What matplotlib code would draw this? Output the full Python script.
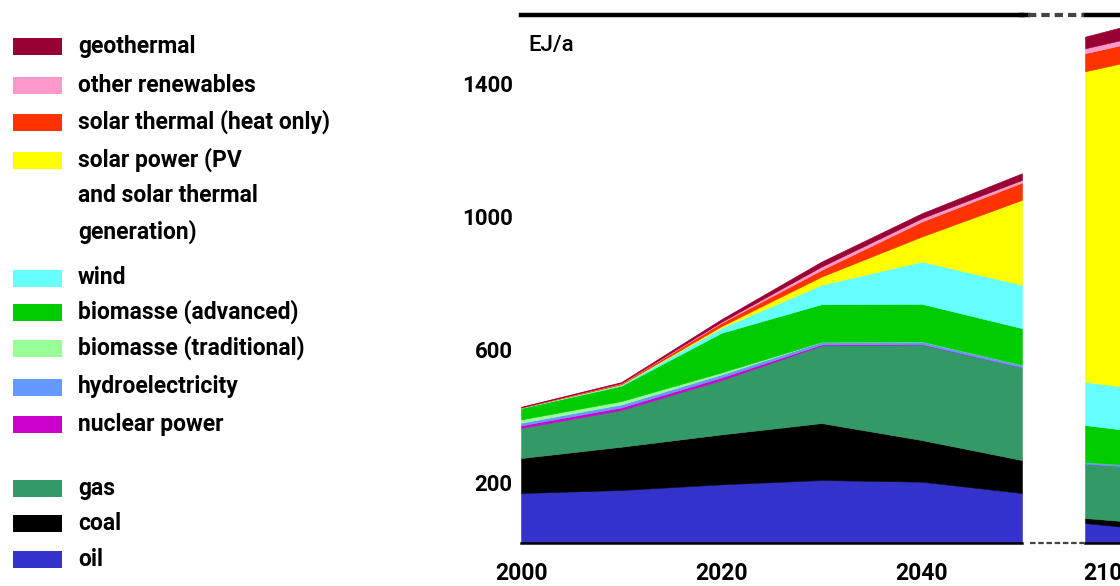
import matplotlib
matplotlib.use("Agg")
import matplotlib.pyplot as plt
from matplotlib.patches import Rectangle
from matplotlib.lines import Line2D

# ---------------- data (EJ/a) ----------------
years = [2000, 2010, 2020, 2030, 2040, 2050]
oil = [150, 159, 176, 189, 184, 150]
coal = [105, 130, 150, 171, 125, 99]
gas = [90, 110, 163, 233, 287, 278]
nuclear = [8, 8, 8, 3, 1, 0]
hydro = [8, 9, 9, 8, 8, 8]
bio_trad = [10, 10, 6, 0, 0, 0]
bio_adv = [34, 46, 119, 113, 113, 110]
wind = [1, 3, 15, 58, 127, 130]
solar_power = [0, 1, 5, 25, 75, 255]
solar_thermal = [1, 3, 10, 20, 45, 52]
other_ren = [0, 1, 3, 10, 10, 8]
geothermal = [2, 3, 8, 15, 15, 20]

# second (broken-axis) panel around 2100
years_b = [2095, 2105]
oil_b = [60, 45]
coal_b = [15, 18]
gas_b = [163, 165]
nuclear_b = [0, 0]
hydro_b = [5, 5]
bio_trad_b = [0, 0]
bio_adv_b = [111, 103]
wind_b = [130, 128]
solar_power_b = [932, 985]
solar_thermal_b = [54, 55]
other_ren_b = [15, 15]
geothermal_b = [35, 40]

labels = ["oil", "coal", "gas", "nuclear power", "hydroelectricity",
          "biomasse (traditional)", "biomasse (advanced)", "wind",
          "solar power (PV\nand solar thermal\ngeneration)",
          "solar thermal (heat only)", "other renewables", "geothermal"]
colors = ["#3333cc", "#000000", "#339966", "#cc00cc", "#6699ff",
          "#99ff99", "#00cc00", "#66ffff", "#ffff00",
          "#ff3300", "#ff99cc", "#990033"]

yticks = [200, 600, 1000, 1400]
xticks_a = [2000, 2020, 2040]
xticks_b = [2100]
unit = "EJ/a"

# ---------------- figure ----------------
W, H = 1120, 586
fig = plt.figure(figsize=(W / 100, H / 100), dpi=100)
FONT = ["Roboto", "DejaVu Sans"]

def fx(px):
    return px / W

def fy(py):
    return 1 - py / H

top_px, bot_px = 15, 543
ax1 = fig.add_axes([fx(521), fy(bot_px), fx(1022 - 521), (bot_px - top_px) / H])
ax2 = fig.add_axes([fx(1085), fy(bot_px), fx(50), (bot_px - top_px) / H])

series_a = [oil, coal, gas, nuclear, hydro, bio_trad, bio_adv, wind,
            solar_power, solar_thermal, other_ren, geothermal]
series_b = [oil_b, coal_b, gas_b, nuclear_b, hydro_b, bio_trad_b, bio_adv_b,
            wind_b, solar_power_b, solar_thermal_b, other_ren_b, geothermal_b]

ax1.stackplot(years, *series_a, colors=colors, edgecolor="face", linewidth=0.4)
ax2.stackplot(years_b, *series_b, colors=colors, edgecolor="face", linewidth=0.4)

YMAX = 1585
for ax, xl, xt in ((ax1, (2000, 2050), xticks_a), (ax2, (2095, 2105), xticks_b)):
    ax.set_xlim(*xl)
    ax.set_ylim(0, YMAX)
    ax.set_xticks(xt)
    ax.set_xticklabels([str(t) for t in xt], fontfamily=FONT,
                       fontweight="bold", fontsize=16.5)
    ax.tick_params(axis="x", length=0, pad=14)
    ax.set_yticks([])
    for s in ("left", "right"):
        ax.spines[s].set_visible(False)
    ax.spines["top"].set_linewidth(3.2)
    ax.spines["bottom"].set_linewidth(1.8)

# y tick labels (slightly below their grid value, as in the original)
for v in yticks:
    ax1.annotate(str(v), xy=(0, v), xycoords=("axes fraction", "data"),
                 xytext=(-6, -6.5), textcoords="offset points",
                 ha="right", va="center", fontfamily=FONT,
                 fontweight="bold", fontsize=16)

fig.text(fx(528), fy(45), unit, ha="left", va="center",
         fontfamily=FONT, fontweight="medium", fontsize=16)

# axis-break dashes
fig.add_artist(Line2D([fx(1021), fx(1028)], [fy(top_px)] * 2, color="black",
                      lw=3.2))
fig.add_artist(Line2D([fx(1028), fx(1084)], [fy(top_px)] * 2, color="#444444",
                      lw=3.0, dashes=(2.0, 1.2)))
fig.add_artist(Line2D([fx(1030), fx(1084)], [fy(bot_px)] * 2, color="#444444",
                      lw=1.6, dashes=(2.5, 1.2)))

# ---------------- legend ----------------
legend_rows = [46.5, 85, 122, 160, 278, 312, 348, 387, 424, 488, 523, 559]
legend_order = list(range(len(labels)))[::-1]  # geothermal first
for row_y, idx in zip(legend_rows, legend_order):
    fig.add_artist(Rectangle((fx(13), fy(row_y + 8.5)), fx(49), 17 / H,
                             facecolor=colors[idx], edgecolor="none"))
    for k, line in enumerate(labels[idx].split("\n")):
        fig.text(fx(78), fy(row_y + k * 36), line, ha="left", va="center",
                 fontfamily=FONT, fontweight="bold", fontsize=16.5)

fig.savefig("out.png", dpi=100)
